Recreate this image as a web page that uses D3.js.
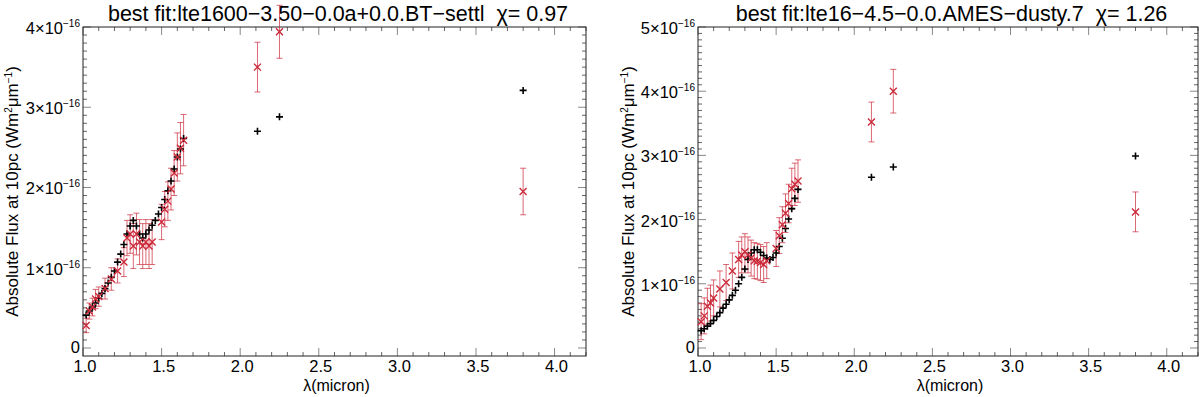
<!DOCTYPE html>
<html>
<head>
<meta charset="utf-8">
<script src="https://cdn.jsdelivr.net/npm/d3@7"></script>
<style>
  body { margin: 0; background: #fff; }
  text { font-family: "Liberation Sans", Arial, sans-serif; fill: #000; white-space: pre; }
</style>
</head>
<body>
<div id="chart"></div>
<script>
// flux values in units of 1e-16 W m^-2 um^-1
var titles = ["best fit:lte1600\u22123.50\u22120.0a+0.0.BT\u2212settl  \u03c7= 0.97",
              "best fit:lte16\u22124.5\u22120.0.AMES\u2212dusty.7  \u03c7= 1.26"];
var xTicks = [1.0, 1.5, 2.0, 2.5, 3.0, 3.5, 4.0];

var modelWave = [1.02,1.04,1.06,1.08,1.10,1.12,1.14,1.16,1.18,1.20,1.22,1.24,1.26,1.28,1.30,1.32,
                 1.34,1.36,1.38,1.40,1.42,1.44,1.46,1.48,1.50,1.52,1.54,1.56,1.58,1.60,1.62,1.64,
                 2.11,2.25,3.80];
var modelFluxL = [0.41,0.46,0.51,0.56,0.62,0.68,0.74,0.81,0.88,0.96,1.07,1.17,1.29,1.42,1.52,1.59,
                  1.52,1.42,1.37,1.42,1.47,1.53,1.59,1.67,1.75,1.85,1.96,2.08,2.23,2.38,2.48,2.61,
                  2.70,2.88,3.21];
var modelFluxR = [0.27,0.30,0.34,0.38,0.43,0.49,0.55,0.62,0.68,0.75,0.82,0.90,1.00,1.10,1.23,1.38,
                  1.48,1.53,1.53,1.49,1.44,1.40,1.38,1.41,1.48,1.58,1.71,1.86,2.01,2.17,2.33,2.47,
                  2.66,2.82,2.99];

var obsWave = [1.02,1.04,1.06,1.08,1.10,1.14,1.18,1.22,1.26,1.28,1.30,1.32,1.34,1.36,1.38,1.40,
               1.42,1.44,1.50,1.52,1.54,1.56,1.58,1.60,1.62,1.64,2.11,2.25,3.80];
var obsFluxL = [0.28,0.46,0.51,0.61,0.64,0.74,0.86,0.96,1.07,1.37,1.42,1.27,1.42,1.32,1.27,1.32,
                1.27,1.32,1.57,1.73,1.83,1.98,2.18,2.38,2.49,2.59,3.50,3.94,1.95];
var obsErrL = [0.09,0.10,0.11,0.12,0.12,0.13,0.14,0.15,0.18,0.22,0.24,0.28,0.26,0.28,0.28,0.28,
               0.28,0.28,0.22,0.22,0.24,0.26,0.28,0.30,0.32,0.32,0.31,0.33,0.29];
var obsFluxR = [0.41,0.50,0.65,0.70,0.78,0.92,1.02,1.20,1.38,1.45,1.50,1.45,1.40,1.36,1.35,1.33,
                1.30,1.36,1.55,1.75,1.92,2.10,2.25,2.48,2.55,2.60,3.52,4.00,2.12];
var obsErrR = [0.28,0.28,0.28,0.28,0.28,0.28,0.28,0.28,0.28,0.28,0.28,0.28,0.28,0.28,0.28,0.28,
               0.28,0.28,0.28,0.28,0.28,0.30,0.30,0.32,0.33,0.33,0.31,0.34,0.31];

var W = 1200, H = 397;
var svg = d3.select("#chart").append("svg")
    .attr("width", W).attr("height", H);

var panels = [
  {left: 83, right: 586, yMax: 4, yMin: -0.1, title: titles[0], model: modelFluxL, obs: obsFluxL, err: obsErrL, ylabX: 12},
  {left: 698, right: 1198, yMax: 5, yMin: -0.125, title: titles[1], model: modelFluxR, obs: obsFluxR, err: obsErrR, ylabX: 628}
];
var plotTop = 27, plotBottom = 356;
var red = "#cc2a3a";

panels.forEach(function(p) {
  var x = d3.scaleLinear().domain([1.0, 4.2]).range([p.left, p.right]);
  var y = d3.scaleLinear().domain([p.yMin, p.yMax]).range([plotBottom, plotTop]);
  var g = svg.append("g");

  // minor + major ticks on all four sides
  var xMinor = d3.range(1.0, 4.2001, 0.1);
  var yMinor = d3.range(0, p.yMax + 0.001, 0.1);
  xMinor.forEach(function(v) {
    var major = Math.abs(v * 2 - Math.round(v * 2)) < 1e-6;
    var len = major ? 8 : 4;
    g.append("line").attr("x1", x(v)).attr("x2", x(v)).attr("y1", plotBottom).attr("y2", plotBottom - len)
      .attr("stroke", major ? "#888" : "#666").attr("stroke-width", 1);
    g.append("line").attr("x1", x(v)).attr("x2", x(v)).attr("y1", plotTop).attr("y2", plotTop + len)
      .attr("stroke", major ? "#888" : "#666").attr("stroke-width", 1);
  });
  yMinor.forEach(function(v) {
    var major = Math.abs(v - Math.round(v)) < 1e-6;
    var len = major ? 8 : 4;
    g.append("line").attr("y1", y(v)).attr("y2", y(v)).attr("x1", p.left).attr("x2", p.left + len)
      .attr("stroke", major ? "#888" : "#666");
    g.append("line").attr("y1", y(v)).attr("y2", y(v)).attr("x1", p.right).attr("x2", p.right - len)
      .attr("stroke", major ? "#888" : "#666");
  });

  g.append("rect").attr("x", p.left).attr("y", plotTop)
    .attr("width", p.right - p.left).attr("height", plotBottom - plotTop)
    .attr("fill", "none").attr("stroke", "#222").attr("stroke-width", 1);

  // x tick labels
  g.selectAll(".xl").data(xTicks).enter().append("text")
    .attr("x", function(d) { return x(d) + 2; })
    .attr("y", 372)
    .attr("text-anchor", "middle")
    .style("font-size", "16.5px")
    .text(function(d) { return d.toFixed(1); });

  // y tick labels
  d3.range(0, p.yMax + 1).forEach(function(v) {
    var t = g.append("text").attr("x", p.left - 3).attr("y", y(v) + (v === 0 ? 5 : 7))
      .attr("text-anchor", "end").style("font-size", "16.5px");
    if (v === 0) { t.text("0"); return; }
    t.append("tspan").text(v + "\u00d710");
    t.append("tspan").attr("dy", -7).style("font-size", "10px").text("\u221216");
  });

  g.append("text").attr("x", (p.left + p.right) / 2 + 2).attr("y", 391)
    .attr("text-anchor", "middle").style("font-size", "16px").text("\u03bb(micron)");

  var yl = g.append("text")
    .attr("transform", "translate(" + (p.ylabX + 6) + "," + ((plotTop + plotBottom) / 2) + ")rotate(-90)")
    .attr("text-anchor", "middle").style("font-size", "17px");
  yl.append("tspan").text("Absolute Flux at 10pc (Wm");
  yl.append("tspan").attr("dy", -6).style("font-size", "10px").text("2");
  yl.append("tspan").attr("dy", 6).text("\u03bcm");
  yl.append("tspan").attr("dy", -6).style("font-size", "10px").text("\u22121");
  yl.append("tspan").attr("dy", 6).text(")");

  g.append("text").attr("x", (p.left + p.right) / 2 + 3.5).attr("y", 21)
    .attr("text-anchor", "middle").style("font-size", "21.5px").text(p.title);

  // error bars
  obsWave.forEach(function(w, i) {
    var cx = x(w), y0 = y(p.obs[i] - p.err[i]), y1 = y(p.obs[i] + p.err[i]);
    g.append("line").attr("x1", cx).attr("x2", cx).attr("y1", y0).attr("y2", y1)
      .attr("stroke", red).attr("stroke-opacity", 0.7);
    [y0, y1].forEach(function(yy) {
      g.append("line").attr("x1", cx - 3).attr("x2", cx + 3).attr("y1", yy).attr("y2", yy)
        .attr("stroke", red).attr("stroke-opacity", 0.7);
    });
  });

  // model points (+)
  modelWave.forEach(function(w, i) {
    var cx = x(w), cy = y(p.model[i]), s = 3.5;
    g.append("path").attr("d", "M" + (cx - s) + "," + cy + "H" + (cx + s) + "M" + cx + "," + (cy - s) + "V" + (cy + s))
      .attr("stroke", "#000").attr("stroke-width", 1.6);
  });

  // observed points (x)
  obsWave.forEach(function(w, i) {
    var cx = x(w), cy = y(p.obs[i]), s = 3.5;
    g.append("path").attr("d", "M" + (cx - s) + "," + (cy - s) + "L" + (cx + s) + "," + (cy + s) +
        "M" + (cx - s) + "," + (cy + s) + "L" + (cx + s) + "," + (cy - s))
      .attr("stroke", red).attr("stroke-width", 1.4);
  });
});
</script>
</body>
</html>
